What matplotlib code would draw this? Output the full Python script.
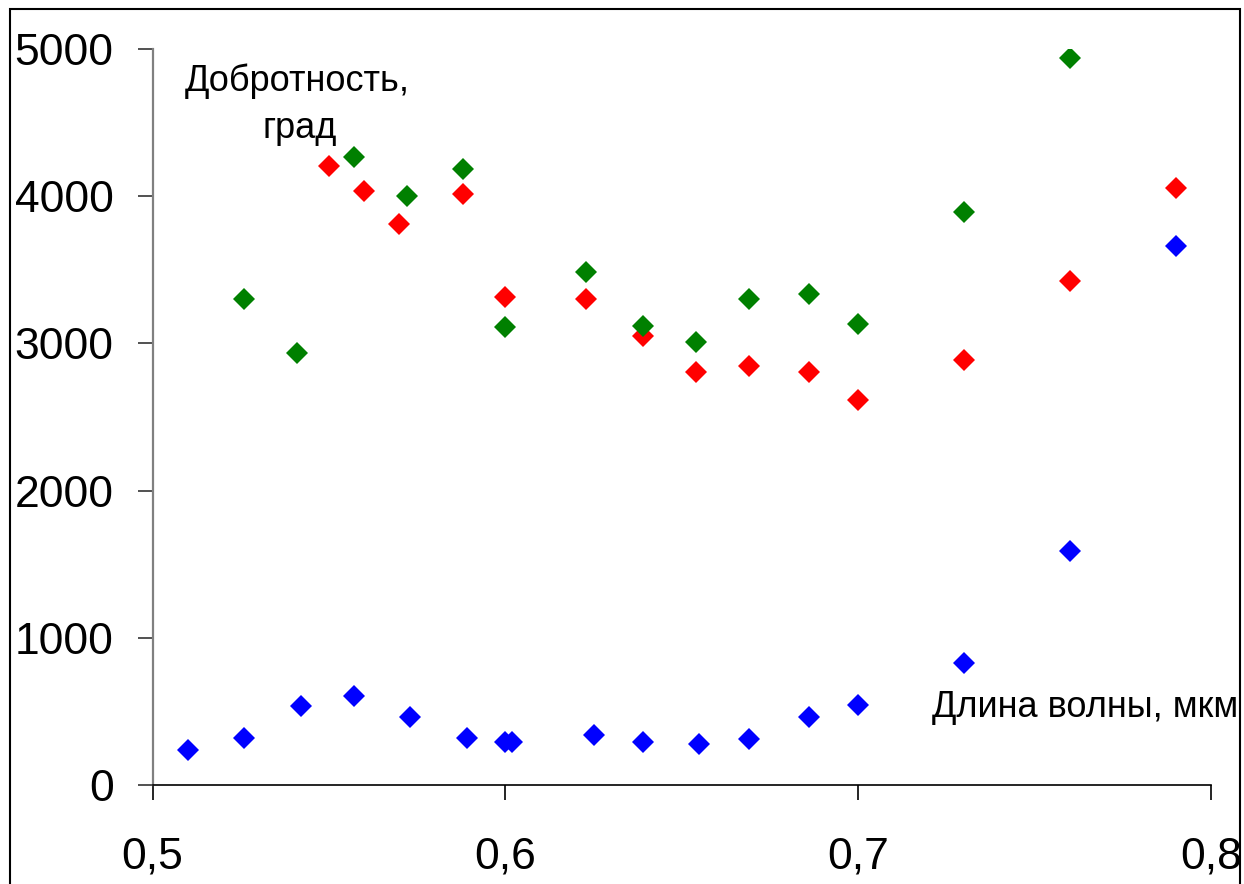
import matplotlib
matplotlib.use("Agg")
import matplotlib.pyplot as plt
from matplotlib.patches import Rectangle

# Data
blue_x = [0.510, 0.526, 0.542, 0.557, 0.573, 0.589, 0.600, 0.602, 0.625, 0.639,
          0.655, 0.669, 0.686, 0.700, 0.730, 0.760, 0.790]
blue_y = [236, 317, 539, 607, 460, 317, 294, 294, 338, 294,
          279, 310, 464, 543, 830, 1590, 3664]

red_x = [0.550, 0.560, 0.570, 0.588, 0.600, 0.623, 0.639, 0.654, 0.669, 0.686,
         0.700, 0.730, 0.760, 0.790]
red_y = [4203, 4037, 3811, 4015, 3317, 3302, 3052, 2806, 2846, 2806,
         2615, 2887, 3426, 4058]

green_x = [0.526, 0.541, 0.557, 0.572, 0.588, 0.600, 0.623, 0.639, 0.654, 0.669,
           0.686, 0.700, 0.730, 0.760]
green_y = [3302, 2933, 4264, 4001, 4183, 3113, 3483, 3118, 3010, 3302,
           3338, 3134, 3893, 4941]

x_ticks = [0.5, 0.6, 0.7, 0.8]
x_tick_labels = ["0,5", "0,6", "0,7", "0,8"]
y_ticks = [0, 1000, 2000, 3000, 4000, 5000]
y_tick_labels = ["0", "1000", "2000", "3000", "4000", "5000"]

plt.rcParams['font.family'] = ['Liberation Sans', 'DejaVu Sans']

fig = plt.figure(figsize=(12.44, 8.84), dpi=100)
ax = fig.add_axes([152.5 / 1244, 1 - 785 / 884, (1211 - 152.5) / 1244, (785 - 49) / 884])

ms = 11
ax.plot(blue_x, blue_y, linestyle='none', marker='D', markersize=ms, color='#0000FF', markeredgewidth=0)
ax.plot(red_x, red_y, linestyle='none', marker='D', markersize=ms, color='#FF0000', markeredgewidth=0)
ax.plot(green_x, green_y, linestyle='none', marker='D', markersize=ms, color='#008000', markeredgewidth=0)

ax.set_xlim(0.5, 0.8)
ax.set_ylim(0, 5000)
ax.set_xticks(x_ticks)
ax.set_xticklabels(x_tick_labels)
ax.set_yticks(y_ticks)
ax.set_yticklabels(y_tick_labels)

for s in ['top', 'right']:
    ax.spines[s].set_visible(False)
ax.spines['left'].set_color('#808080')
ax.spines['left'].set_linewidth(1.6)
ax.spines['bottom'].set_color('black')
ax.spines['bottom'].set_linewidth(1.2)

ax.tick_params(axis='x', direction='out', length=11, width=1.2, color='black',
               labelsize=32, pad=26)
ax.tick_params(axis='y', direction='out', length=11, width=1.2, color='#333333',
               labelsize=32, pad=17)

ax.text(0.541, 4717, "Добротность,", fontsize=26, ha='center', va='baseline')
ax.text(0.5418, 4395, "град", fontsize=26, ha='center', va='baseline')
ax.text(0.8078, 464, "Длина волны, мкм", fontsize=26, ha='right', va='baseline', clip_on=False)

# figure frame
fig.patches.append(Rectangle((10 / 1244, -0.02), (1240 - 10) / 1244, 1 - 9 / 884 + 0.02,
                             transform=fig.transFigure, fill=False, edgecolor='black',
                             linewidth=1.5))

fig.savefig("out.png", dpi=100)
